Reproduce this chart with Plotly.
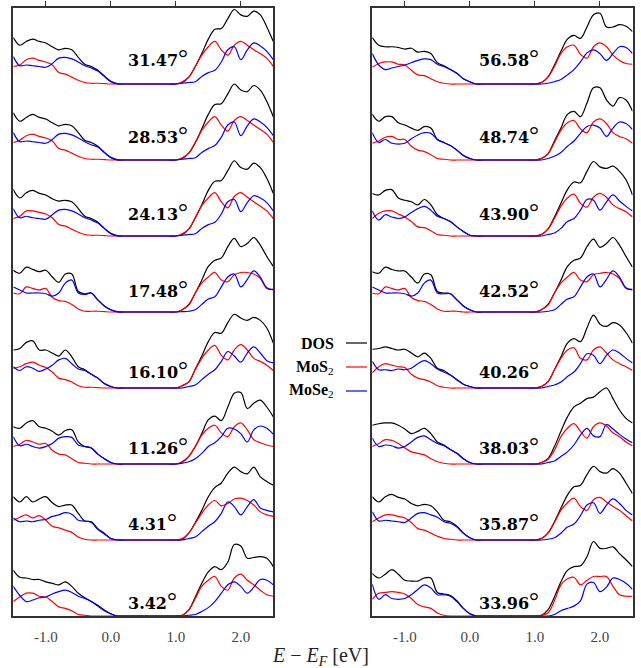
import numpy as np
import plotly.graph_objects as go

# Energy grid (eV, relative to the Fermi level)
energy = [-1.5, -1.4, -1.3, -1.2, -1.1, -1.0, -0.9, -0.8, -0.7, -0.6, -0.5, -0.4, -0.3, -0.2, -0.1,
          0.0, 0.1, 0.2, 0.3, 0.4, 0.5, 0.6, 0.7, 0.8, 0.9, 1.0, 1.1, 1.2, 1.3, 1.4, 1.5,
          1.6, 1.7, 1.8, 1.9, 2.0, 2.1, 2.2, 2.3, 2.4, 2.5]
GAP = [0, 0, 0, 0, 0, 0, 0, 0, 0]

# twist angles, bottom to top
angles_left = ["3.42", "4.31", "11.26", "16.10", "17.48", "24.13", "28.53", "31.47"]
angles_right = ["33.96", "35.87", "38.03", "40.26", "42.52", "43.90", "48.74", "56.58"]
tick_vals = [-1.0, 0.0, 1.0, 2.0]
tick_text = ["-1.0", "0.0", "1.0", "2.0"]

# ---------------- left column ----------------
dos_3_42 = [0.60, 0.51, 0.50, 0.48, 0.48, 0.45, 0.43, 0.41, 0.45, 0.39, 0.30, 0.24, 0.19, 0.14, 0.08, 0.03, 0] + GAP + [0.01, 0.08, 0.25, 0.43, 0.58, 0.65, 0.61, 0.71, 0.94, 0.92, 0.76, 0.77, 0.78, 0.76, 0.65]
mos2_3_42 = [0.19, 0.25, 0.30, 0.30, 0.26, 0.25, 0.19, 0.12, 0.10, 0.07, 0.02, 0.01, 0, 0, 0, 0, 0] + GAP + [0.01, 0.08, 0.23, 0.39, 0.47, 0.52, 0.39, 0.34, 0.50, 0.55, 0.47, 0.41, 0.34, 0.28, 0.26]
mose2_3_42 = [0.39, 0.27, 0.19, 0.21, 0.24, 0.25, 0.29, 0.32, 0.34, 0.31, 0.26, 0.23, 0.19, 0.13, 0.07, 0.03, 0] + GAP + [0, 0.01, 0.02, 0.06, 0.11, 0.19, 0.30, 0.41, 0.45, 0.39, 0.30, 0.38, 0.48, 0.47, 0.41]

dos_4_31 = [0.57, 0.50, 0.57, 0.50, 0.54, 0.57, 0.49, 0.44, 0.46, 0.46, 0.35, 0.25, 0.24, 0.15, 0.09, 0.02, 0] + GAP + [0.01, 0.09, 0.23, 0.39, 0.57, 0.69, 0.75, 0.88, 0.96, 0.90, 0.87, 0.96, 0.83, 0.77, 0.72]
mos2_4_31 = [0.26, 0.30, 0.33, 0.29, 0.32, 0.26, 0.18, 0.16, 0.13, 0.10, 0.04, 0.01, 0, 0, 0, 0, 0] + GAP + [0.02, 0.09, 0.22, 0.35, 0.46, 0.52, 0.45, 0.48, 0.54, 0.55, 0.52, 0.46, 0.37, 0.33, 0.31]
mose2_4_31 = [0.29, 0.24, 0.25, 0.24, 0.26, 0.27, 0.31, 0.33, 0.36, 0.34, 0.26, 0.25, 0.23, 0.14, 0.08, 0.02, 0] + GAP + [0, 0.02, 0.04, 0.11, 0.18, 0.24, 0.35, 0.50, 0.44, 0.33, 0.44, 0.53, 0.42, 0.39, 0.37]

dos_11_26 = [0.49, 0.47, 0.54, 0.57, 0.49, 0.47, 0.43, 0.38, 0.44, 0.45, 0.29, 0.23, 0.21, 0.13, 0.07, 0.02, 0] + GAP + [0.03, 0.10, 0.23, 0.40, 0.58, 0.63, 0.57, 0.75, 0.93, 0.94, 0.73, 0.80, 0.84, 0.75, 0.62]
mos2_11_26 = [0.23, 0.26, 0.31, 0.29, 0.26, 0.27, 0.18, 0.13, 0.12, 0.07, 0.02, 0.01, 0, 0, 0, 0, 0] + GAP + [0.02, 0.10, 0.23, 0.38, 0.47, 0.51, 0.41, 0.36, 0.49, 0.54, 0.45, 0.32, 0.28, 0.25, 0.23]
mose2_11_26 = [0.36, 0.24, 0.26, 0.23, 0.21, 0.23, 0.27, 0.34, 0.36, 0.35, 0.25, 0.23, 0.21, 0.13, 0.07, 0.02, 0] + GAP + [0.01, 0.03, 0.07, 0.14, 0.23, 0.28, 0.36, 0.47, 0.46, 0.40, 0.29, 0.45, 0.50, 0.47, 0.39]

dos_16_10 = [0.50, 0.52, 0.60, 0.62, 0.50, 0.50, 0.46, 0.42, 0.50, 0.41, 0.28, 0.24, 0.18, 0.13, 0.06, 0.02, 0] + GAP + [0.03, 0.08, 0.25, 0.42, 0.61, 0.73, 0.72, 0.86, 0.97, 0.92, 0.89, 0.93, 0.89, 0.79, 0.59]
mos2_16_10 = [0.26, 0.28, 0.32, 0.34, 0.30, 0.27, 0.21, 0.13, 0.11, 0.08, 0.03, 0.01, 0.01, 0.005, 0, 0, 0] + GAP + [0.03, 0.08, 0.24, 0.39, 0.50, 0.56, 0.43, 0.37, 0.50, 0.57, 0.50, 0.39, 0.35, 0.30, 0.23]
mose2_16_10 = [0.28, 0.23, 0.28, 0.26, 0.22, 0.25, 0.30, 0.37, 0.39, 0.32, 0.25, 0.23, 0.18, 0.13, 0.06, 0.02, 0] + GAP + [0, 0.02, 0.04, 0.11, 0.18, 0.24, 0.35, 0.48, 0.42, 0.34, 0.46, 0.54, 0.46, 0.36, 0.33]

dos_17_48 = [0.55, 0.51, 0.59, 0.56, 0.53, 0.55, 0.46, 0.39, 0.50, 0.50, 0.27, 0.24, 0.25, 0.16, 0.08, 0.03, 0.005] + GAP + [0.03, 0.10, 0.25, 0.42, 0.60, 0.68, 0.71, 0.86, 0.97, 0.86, 0.90, 0.98, 0.88, 0.73, 0.60]
mos2_17_48 = [0.25, 0.24, 0.33, 0.31, 0.29, 0.31, 0.19, 0.15, 0.14, 0.10, 0.04, 0.01, 0.01, 0.01, 0.005, 0, 0] + GAP + [0.03, 0.09, 0.25, 0.38, 0.46, 0.52, 0.42, 0.40, 0.49, 0.52, 0.52, 0.50, 0.44, 0.31, 0.30]
mose2_17_48 = [0.33, 0.29, 0.25, 0.25, 0.25, 0.24, 0.21, 0.25, 0.38, 0.42, 0.25, 0.23, 0.25, 0.16, 0.08, 0.03, 0] + GAP + [0.005, 0.01, 0.03, 0.10, 0.17, 0.20, 0.33, 0.46, 0.50, 0.33, 0.43, 0.54, 0.46, 0.32, 0.29]

dos_24_13 = [0.61, 0.50, 0.57, 0.60, 0.56, 0.54, 0.49, 0.46, 0.47, 0.45, 0.36, 0.26, 0.23, 0.18, 0.10, 0.035, 0.005] + GAP + [0.02, 0.09, 0.24, 0.41, 0.60, 0.72, 0.73, 0.86, 0.99, 0.90, 0.88, 0.96, 0.90, 0.76, 0.56]
mos2_24_13 = [0.23, 0.26, 0.33, 0.33, 0.31, 0.29, 0.24, 0.15, 0.13, 0.09, 0.05, 0.02, 0.01, 0.01, 0.005, 0, 0] + GAP + [0.03, 0.09, 0.24, 0.40, 0.50, 0.57, 0.45, 0.37, 0.52, 0.57, 0.51, 0.45, 0.39, 0.33, 0.23]
mose2_24_13 = [0.36, 0.24, 0.26, 0.24, 0.23, 0.22, 0.28, 0.34, 0.35, 0.33, 0.29, 0.24, 0.21, 0.17, 0.10, 0.03, 0] + GAP + [0.01, 0.02, 0.03, 0.10, 0.15, 0.18, 0.29, 0.45, 0.48, 0.32, 0.44, 0.53, 0.50, 0.44, 0.33]

dos_28_53 = [0.62, 0.51, 0.56, 0.60, 0.56, 0.54, 0.49, 0.45, 0.47, 0.45, 0.36, 0.26, 0.23, 0.18, 0.10, 0.035, 0.005] + GAP + [0.02, 0.09, 0.23, 0.41, 0.60, 0.73, 0.74, 0.87, 1.00, 0.92, 0.90, 0.98, 0.92, 0.77, 0.57]
mos2_28_53 = [0.23, 0.26, 0.32, 0.34, 0.31, 0.29, 0.25, 0.15, 0.13, 0.09, 0.05, 0.02, 0.01, 0.01, 0.005, 0, 0] + GAP + [0.03, 0.09, 0.23, 0.39, 0.50, 0.57, 0.46, 0.38, 0.52, 0.57, 0.52, 0.46, 0.40, 0.34, 0.23]
mose2_28_53 = [0.36, 0.24, 0.25, 0.24, 0.23, 0.22, 0.27, 0.34, 0.35, 0.33, 0.29, 0.24, 0.20, 0.17, 0.10, 0.03, 0] + GAP + [0.01, 0.02, 0.03, 0.10, 0.15, 0.19, 0.30, 0.46, 0.50, 0.32, 0.45, 0.54, 0.50, 0.43, 0.32]

dos_31_47 = [0.61, 0.51, 0.56, 0.59, 0.56, 0.54, 0.49, 0.45, 0.47, 0.45, 0.35, 0.26, 0.23, 0.18, 0.105, 0.035, 0.005] + GAP + [0.02, 0.09, 0.23, 0.40, 0.59, 0.72, 0.73, 0.86, 0.98, 0.91, 0.89, 0.96, 0.91, 0.75, 0.56]
mos2_31_47 = [0.23, 0.25, 0.32, 0.34, 0.31, 0.29, 0.25, 0.15, 0.13, 0.09, 0.05, 0.02, 0.01, 0.01, 0.005, 0, 0] + GAP + [0.03, 0.09, 0.23, 0.38, 0.49, 0.56, 0.45, 0.38, 0.51, 0.56, 0.51, 0.45, 0.40, 0.34, 0.23]
mose2_31_47 = [0.36, 0.24, 0.25, 0.24, 0.23, 0.22, 0.27, 0.34, 0.35, 0.33, 0.29, 0.24, 0.21, 0.17, 0.10, 0.03, 0] + GAP + [0.01, 0.02, 0.03, 0.10, 0.15, 0.18, 0.29, 0.45, 0.49, 0.32, 0.45, 0.54, 0.50, 0.43, 0.32]

# ---------------- right column ----------------
dos_33_96 = [0.56, 0.50, 0.55, 0.61, 0.55, 0.47, 0.46, 0.46, 0.50, 0.50, 0.31, 0.29, 0.27, 0.20, 0.10, 0.03, 0] + GAP + [0.01, 0.08, 0.25, 0.45, 0.60, 0.65, 0.66, 0.78, 0.98, 0.89, 0.89, 0.91, 0.82, 0.74, 0.65]
mos2_33_96 = [0.22, 0.30, 0.31, 0.32, 0.31, 0.29, 0.23, 0.15, 0.12, 0.10, 0.04, 0.01, 0, 0, 0, 0, 0] + GAP + [0.01, 0.04, 0.20, 0.41, 0.49, 0.51, 0.41, 0.47, 0.52, 0.52, 0.52, 0.39, 0.28, 0.26, 0.26]
mose2_33_96 = [0.42, 0.22, 0.28, 0.23, 0.22, 0.23, 0.28, 0.35, 0.41, 0.37, 0.28, 0.28, 0.26, 0.19, 0.10, 0.03, 0] + GAP + [0, 0, 0.02, 0.07, 0.10, 0.13, 0.20, 0.42, 0.44, 0.32, 0.38, 0.50, 0.48, 0.43, 0.35]

dos_35_87 = [0.57, 0.50, 0.57, 0.60, 0.56, 0.54, 0.48, 0.45, 0.47, 0.45, 0.37, 0.26, 0.24, 0.18, 0.09, 0.03, 0] + GAP + [0.02, 0.09, 0.24, 0.42, 0.59, 0.70, 0.72, 0.86, 0.97, 0.90, 0.88, 0.94, 0.88, 0.75, 0.61]
mos2_35_87 = [0.24, 0.29, 0.33, 0.33, 0.31, 0.29, 0.23, 0.15, 0.13, 0.09, 0.05, 0.02, 0.01, 0, 0, 0, 0] + GAP + [0.02, 0.09, 0.23, 0.39, 0.49, 0.55, 0.44, 0.39, 0.53, 0.56, 0.50, 0.44, 0.39, 0.32, 0.25]
mose2_35_87 = [0.37, 0.25, 0.26, 0.25, 0.24, 0.23, 0.29, 0.35, 0.36, 0.33, 0.30, 0.24, 0.22, 0.17, 0.09, 0.03, 0] + GAP + [0, 0.01, 0.03, 0.09, 0.17, 0.21, 0.32, 0.46, 0.49, 0.35, 0.46, 0.54, 0.48, 0.39, 0.33]

dos_38_03 = [0.51, 0.53, 0.54, 0.54, 0.51, 0.46, 0.40, 0.43, 0.47, 0.40, 0.29, 0.25, 0.19, 0.14, 0.07, 0.02, 0] + GAP + [0.02, 0.07, 0.23, 0.43, 0.62, 0.75, 0.80, 0.86, 0.88, 0.95, 1.00, 0.86, 0.71, 0.60, 0.54]
mos2_38_03 = [0.23, 0.27, 0.32, 0.31, 0.27, 0.21, 0.16, 0.14, 0.12, 0.07, 0.03, 0.01, 0, 0, 0, 0, 0] + GAP + [0.02, 0.06, 0.18, 0.36, 0.47, 0.53, 0.43, 0.34, 0.49, 0.54, 0.50, 0.41, 0.36, 0.29, 0.24]
mose2_38_03 = [0.34, 0.23, 0.25, 0.24, 0.21, 0.23, 0.29, 0.35, 0.37, 0.32, 0.27, 0.24, 0.19, 0.14, 0.07, 0.02, 0] + GAP + [0, 0.02, 0.04, 0.10, 0.16, 0.25, 0.38, 0.47, 0.37, 0.36, 0.52, 0.46, 0.39, 0.33, 0.28]

dos_40_26 = [0.51, 0.52, 0.54, 0.52, 0.50, 0.51, 0.46, 0.41, 0.46, 0.39, 0.26, 0.23, 0.17, 0.11, 0.05, 0.02, 0] + GAP + [0.02, 0.08, 0.24, 0.41, 0.59, 0.65, 0.61, 0.79, 0.96, 0.84, 0.81, 0.86, 0.83, 0.73, 0.59]
mos2_40_26 = [0.20, 0.28, 0.32, 0.30, 0.28, 0.27, 0.18, 0.13, 0.11, 0.08, 0.03, 0.01, 0, 0, 0, 0, 0] + GAP + [0.02, 0.08, 0.24, 0.39, 0.50, 0.53, 0.39, 0.37, 0.50, 0.54, 0.46, 0.37, 0.32, 0.28, 0.23]
mose2_40_26 = [0.35, 0.24, 0.24, 0.23, 0.25, 0.24, 0.26, 0.32, 0.36, 0.32, 0.25, 0.21, 0.17, 0.11, 0.05, 0.02, 0] + GAP + [0, 0.02, 0.04, 0.08, 0.15, 0.21, 0.32, 0.45, 0.43, 0.32, 0.43, 0.50, 0.46, 0.39, 0.33]

dos_42_52 = [0.53, 0.51, 0.59, 0.56, 0.54, 0.54, 0.46, 0.38, 0.50, 0.49, 0.27, 0.25, 0.24, 0.16, 0.08, 0.03, 0] + GAP + [0.03, 0.10, 0.25, 0.42, 0.60, 0.68, 0.71, 0.86, 0.96, 0.85, 0.90, 0.98, 0.88, 0.73, 0.59]
mos2_42_52 = [0.25, 0.24, 0.33, 0.31, 0.29, 0.31, 0.19, 0.15, 0.14, 0.10, 0.04, 0.01, 0.01, 0.01, 0, 0, 0] + GAP + [0.03, 0.09, 0.25, 0.38, 0.46, 0.52, 0.42, 0.40, 0.49, 0.51, 0.52, 0.50, 0.44, 0.31, 0.30]
mose2_42_52 = [0.33, 0.29, 0.25, 0.25, 0.25, 0.24, 0.21, 0.25, 0.38, 0.42, 0.25, 0.24, 0.24, 0.16, 0.08, 0.03, 0] + GAP + [0, 0.01, 0.03, 0.10, 0.17, 0.20, 0.33, 0.46, 0.50, 0.33, 0.43, 0.54, 0.46, 0.32, 0.29]

dos_43_90 = [0.56, 0.54, 0.60, 0.61, 0.50, 0.47, 0.45, 0.41, 0.48, 0.41, 0.28, 0.23, 0.19, 0.12, 0.06, 0.01, 0] + GAP + [0.02, 0.09, 0.25, 0.43, 0.61, 0.71, 0.70, 0.85, 0.98, 0.91, 0.89, 0.92, 0.85, 0.74, 0.54]
mos2_43_90 = [0.23, 0.30, 0.33, 0.33, 0.29, 0.25, 0.19, 0.12, 0.11, 0.07, 0.02, 0.01, 0, 0, 0, 0, 0] + GAP + [0.02, 0.09, 0.23, 0.39, 0.50, 0.55, 0.43, 0.38, 0.51, 0.56, 0.51, 0.41, 0.36, 0.32, 0.25]
mose2_43_90 = [0.33, 0.21, 0.28, 0.25, 0.23, 0.25, 0.31, 0.36, 0.39, 0.34, 0.26, 0.23, 0.19, 0.12, 0.06, 0.01, 0] + GAP + [0, 0.02, 0.04, 0.10, 0.19, 0.23, 0.34, 0.48, 0.47, 0.34, 0.45, 0.54, 0.46, 0.39, 0.33]

dos_48_74 = [0.60, 0.51, 0.57, 0.57, 0.49, 0.46, 0.42, 0.39, 0.44, 0.42, 0.27, 0.23, 0.19, 0.13, 0.06, 0.02, 0] + GAP + [0.02, 0.08, 0.25, 0.42, 0.60, 0.64, 0.57, 0.75, 0.95, 0.95, 0.79, 0.71, 0.82, 0.79, 0.64]
mos2_48_74 = [0.22, 0.25, 0.30, 0.31, 0.27, 0.27, 0.18, 0.13, 0.11, 0.07, 0.02, 0.01, 0, 0, 0, 0, 0] + GAP + [0.02, 0.08, 0.23, 0.39, 0.49, 0.52, 0.41, 0.36, 0.50, 0.54, 0.48, 0.36, 0.31, 0.28, 0.22]
mose2_48_74 = [0.36, 0.23, 0.27, 0.22, 0.21, 0.22, 0.28, 0.33, 0.36, 0.35, 0.27, 0.23, 0.19, 0.13, 0.06, 0.02, 0] + GAP + [0, 0.02, 0.05, 0.10, 0.18, 0.25, 0.35, 0.44, 0.46, 0.42, 0.31, 0.42, 0.50, 0.48, 0.40]

dos_56_58 = [0.61, 0.51, 0.49, 0.49, 0.48, 0.46, 0.47, 0.42, 0.43, 0.40, 0.28, 0.24, 0.19, 0.14, 0.07, 0.03, 0] + GAP + [0.02, 0.09, 0.25, 0.43, 0.59, 0.64, 0.60, 0.75, 0.91, 0.93, 0.75, 0.75, 0.78, 0.76, 0.69]
mos2_56_58 = [0.22, 0.27, 0.29, 0.29, 0.26, 0.25, 0.18, 0.12, 0.11, 0.07, 0.03, 0.01, 0, 0, 0, 0, 0] + GAP + [0.02, 0.09, 0.23, 0.40, 0.49, 0.51, 0.39, 0.34, 0.49, 0.54, 0.49, 0.38, 0.31, 0.27, 0.26]
mose2_56_58 = [0.40, 0.25, 0.19, 0.21, 0.23, 0.25, 0.28, 0.31, 0.33, 0.32, 0.26, 0.23, 0.19, 0.14, 0.07, 0.03, 0] + GAP + [0, 0.01, 0.03, 0.06, 0.12, 0.19, 0.29, 0.41, 0.45, 0.40, 0.31, 0.40, 0.49, 0.48, 0.40]

left_rows = [
    (dos_3_42, mos2_3_42, mose2_3_42),
    (dos_4_31, mos2_4_31, mose2_4_31),
    (dos_11_26, mos2_11_26, mose2_11_26),
    (dos_16_10, mos2_16_10, mose2_16_10),
    (dos_17_48, mos2_17_48, mose2_17_48),
    (dos_24_13, mos2_24_13, mose2_24_13),
    (dos_28_53, mos2_28_53, mose2_28_53),
    (dos_31_47, mos2_31_47, mose2_31_47),
]
right_rows = [
    (dos_33_96, mos2_33_96, mose2_33_96),
    (dos_35_87, mos2_35_87, mose2_35_87),
    (dos_38_03, mos2_38_03, mose2_38_03),
    (dos_40_26, mos2_40_26, mose2_40_26),
    (dos_42_52, mos2_42_52, mose2_42_52),
    (dos_43_90, mos2_43_90, mose2_43_90),
    (dos_48_74, mos2_48_74, mose2_48_74),
    (dos_56_58, mos2_56_58, mose2_56_58),
]

COLORS = ["#000000", "#ff0000", "#0000ff"]
SERIF = "Liberation Serif, DejaVu Serif, serif"
LABEL_FONT = "DejaVu Serif, serif"
LABEL_LIFT = [0.20, 0.24, 0.24, 0.25, 0.31, 0.32, 0.33, 0.35]
DEGREE = "<span style='font-family:Liberation Serif;font-size:25px'>°</span>"

fig = go.Figure()


def add_column(rows, angles, xa, ya, label_x):
    for i, curves in enumerate(rows):
        for vals, col in zip(curves, COLORS):
            fig.add_trace(go.Scatter(
                x=energy, y=np.array(vals) + i, xaxis=xa, yaxis=ya,
                mode="lines", line=dict(color=col, width=1.2, shape="spline", smoothing=1.0),
                showlegend=False, hoverinfo="skip"))
        fig.add_annotation(
            x=label_x, y=i + LABEL_LIFT[i], xref=xa, yref=ya,
            text="<b>" + angles[i] + "</b>" + DEGREE,
            showarrow=False, xanchor="left", yanchor="middle",
            font=dict(family=LABEL_FONT, size=16, color="#000"))


add_column(left_rows, angles_left, "x", "y", 0.24)
add_column(right_rows, angles_right, "x2", "y2", 0.11)

# invisible carriers for the top tick axes
fig.add_trace(go.Scatter(x=[0], y=[0], xaxis="x3", yaxis="y", mode="none",
                         showlegend=False, hoverinfo="skip"))
fig.add_trace(go.Scatter(x=[0], y=[0], xaxis="x4", yaxis="y2", mode="none",
                         showlegend=False, hoverinfo="skip"))

frame = dict(showline=True, mirror=True, linecolor="#333", linewidth=1.5,
             showgrid=False, zeroline=False)
bottom_x = dict(range=[-1.5, 2.5], tickvals=tick_vals, ticktext=tick_text, ticks="",
                ticklabelstandoff=6,
                tickfont=dict(family=SERIF, size=15, color="#444"), **frame)
top_x = dict(range=[-1.5, 2.5], tickvals=tick_vals, ticks="outside", ticklen=6,
             tickcolor="#333", tickwidth=1, showticklabels=False, side="top",
             showline=False, showgrid=False, zeroline=False)
y_frame = dict(range=[0, 8], showticklabels=False, ticks="", **frame)

dom_l = [13.3 / 641, 273.3 / 641]
dom_r = [372.3 / 641, 632.5 / 641]

fig.update_layout(
    width=641, height=668,
    margin=dict(l=0, r=0, t=8, b=52),
    paper_bgcolor="white", plot_bgcolor="white",
    xaxis=dict(domain=dom_l, anchor="y", **bottom_x),
    xaxis2=dict(domain=dom_r, anchor="y2", **bottom_x),
    xaxis3=dict(domain=dom_l, anchor="y", overlaying="x", **top_x),
    xaxis4=dict(domain=dom_r, anchor="y2", overlaying="x2", **top_x),
    yaxis=dict(domain=[0, 1], anchor="x", **y_frame),
    yaxis2=dict(domain=[0, 1], anchor="x2", **y_frame),
)

# legend: text on the left, line sample on the right
legend_items = [("<b>DOS</b>", COLORS[0]), ("<b>MoS</b><sub>2</sub>", COLORS[1]),
                ("<b>MoSe</b><sub>2</sub>", COLORS[2])]
for k, (txt, col) in enumerate(legend_items):
    yp = (616 - (343 + 24 * k)) / 608
    fig.add_annotation(x=336 / 641, y=yp, xref="paper", yref="paper", text=txt,
                       showarrow=False, xanchor="right", yanchor="middle",
                       font=dict(family=SERIF, size=16, color="#000"))
    fig.add_shape(type="line", xref="paper", yref="paper", x0=346 / 641, x1=367 / 641,
                  y0=yp, y1=yp, line=dict(color=col, width=1.2))

fig.add_annotation(x=320 / 641, y=(616 - 656) / 608, xref="paper", yref="paper",
                   text="<i>E</i> − <i>E</i><sub><i>F</i></sub> [eV]", showarrow=False,
                   xanchor="center", yanchor="middle",
                   font=dict(family=SERIF, size=20, color="#222"))

fig.write_html("out.html")
